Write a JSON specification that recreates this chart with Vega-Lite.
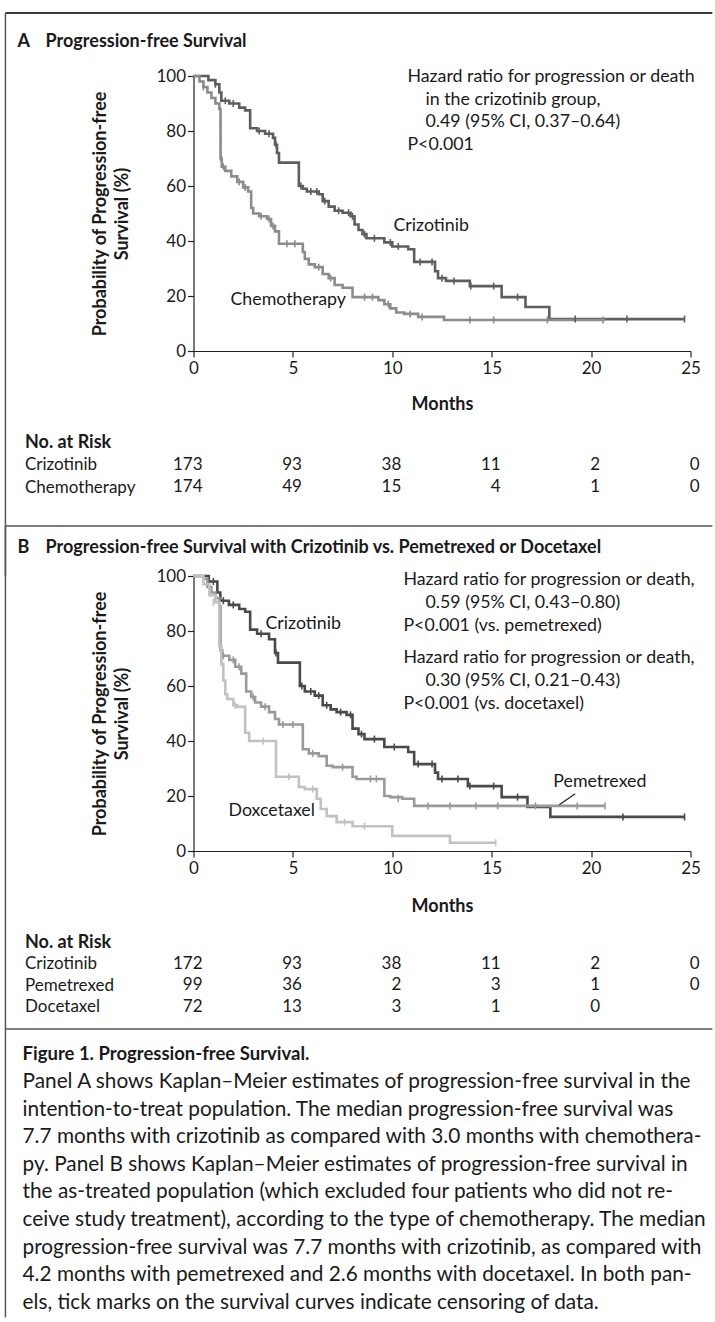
{
 "$schema": "https://vega.github.io/schema/vega-lite/v6.json",
 "padding": {"left": 3.5, "top": 12, "right": 0, "bottom": 0},
 "background": "white",
 "bounds": "flush",
 "spacing": 0,
 "resolve": {"scale": {"color": "independent"}},
 "config": {
  "font": "Lato",
  "view": {"stroke": null},
  "axis": {"labelFont": "Lato", "labelFontSize": 17, "labelColor": "#1a1a1a", "titleFont": "Lato", "titleFontSize": 18, "titleFontWeight": "bold", "titleColor": "#1a1a1a", "domainColor": "#222222", "tickColor": "#222222", "grid": false, "tickSize": 6, "domainWidth": 1.2, "tickWidth": 1.2},
  "text": {"font": "Lato", "fontSize": 17.8, "color": "#1a1a1a"}
 },
 "datasets": {
  "curves": [
   {"panel":"A","group":"Crizotinib","month":0,"pct":100},{"panel":"A","group":"Crizotinib","month":0.75,"pct":98.5},{"panel":"A","group":"Crizotinib","month":1.1,"pct":97},{"panel":"A","group":"Crizotinib","month":1.3,"pct":94},{"panel":"A","group":"Crizotinib","month":1.4,"pct":91},{"panel":"A","group":"Crizotinib","month":1.8,"pct":90},{"panel":"A","group":"Crizotinib","month":2.3,"pct":88.5},{"panel":"A","group":"Crizotinib","month":2.6,"pct":87.5},{"panel":"A","group":"Crizotinib","month":2.85,"pct":81},{"panel":"A","group":"Crizotinib","month":3.2,"pct":80},{"panel":"A","group":"Crizotinib","month":3.6,"pct":79},{"panel":"A","group":"Crizotinib","month":4.0,"pct":77.5},{"panel":"A","group":"Crizotinib","month":4.1,"pct":75},{"panel":"A","group":"Crizotinib","month":4.2,"pct":72},{"panel":"A","group":"Crizotinib","month":4.3,"pct":68.5},{"panel":"A","group":"Crizotinib","month":5.3,"pct":60},{"panel":"A","group":"Crizotinib","month":5.5,"pct":59},{"panel":"A","group":"Crizotinib","month":5.7,"pct":58},{"panel":"A","group":"Crizotinib","month":6.3,"pct":57},{"panel":"A","group":"Crizotinib","month":6.5,"pct":54.5},{"panel":"A","group":"Crizotinib","month":6.8,"pct":52.5},{"panel":"A","group":"Crizotinib","month":7.1,"pct":51},{"panel":"A","group":"Crizotinib","month":7.5,"pct":50.3},{"panel":"A","group":"Crizotinib","month":7.9,"pct":49},{"panel":"A","group":"Crizotinib","month":8.1,"pct":46},{"panel":"A","group":"Crizotinib","month":8.3,"pct":44},{"panel":"A","group":"Crizotinib","month":8.5,"pct":42.5},{"panel":"A","group":"Crizotinib","month":8.7,"pct":41},{"panel":"A","group":"Crizotinib","month":9.6,"pct":39.5},{"panel":"A","group":"Crizotinib","month":10.0,"pct":38},{"panel":"A","group":"Crizotinib","month":10.8,"pct":37},{"panel":"A","group":"Crizotinib","month":11.1,"pct":32.4},{"panel":"A","group":"Crizotinib","month":12.15,"pct":29},{"panel":"A","group":"Crizotinib","month":12.3,"pct":26.5},{"panel":"A","group":"Crizotinib","month":12.7,"pct":25.5},{"panel":"A","group":"Crizotinib","month":13.9,"pct":23.6},{"panel":"A","group":"Crizotinib","month":15.5,"pct":19.6},{"panel":"A","group":"Crizotinib","month":16.7,"pct":16},{"panel":"A","group":"Crizotinib","month":17.9,"pct":11.6},{"panel":"A","group":"Crizotinib","month":24.7,"pct":11.6},
   {"panel":"A","group":"Chemotherapy","month":0,"pct":100},{"panel":"A","group":"Chemotherapy","month":0.3,"pct":98},{"panel":"A","group":"Chemotherapy","month":0.5,"pct":96},{"panel":"A","group":"Chemotherapy","month":0.7,"pct":94},{"panel":"A","group":"Chemotherapy","month":0.9,"pct":92},{"panel":"A","group":"Chemotherapy","month":1.1,"pct":90},{"panel":"A","group":"Chemotherapy","month":1.3,"pct":88},{"panel":"A","group":"Chemotherapy","month":1.36,"pct":70},{"panel":"A","group":"Chemotherapy","month":1.42,"pct":67},{"panel":"A","group":"Chemotherapy","month":1.6,"pct":65.5},{"panel":"A","group":"Chemotherapy","month":1.9,"pct":63.5},{"panel":"A","group":"Chemotherapy","month":2.2,"pct":61.5},{"panel":"A","group":"Chemotherapy","month":2.5,"pct":59.5},{"panel":"A","group":"Chemotherapy","month":2.75,"pct":58},{"panel":"A","group":"Chemotherapy","month":2.9,"pct":52},{"panel":"A","group":"Chemotherapy","month":3.0,"pct":50},{"panel":"A","group":"Chemotherapy","month":3.3,"pct":49},{"panel":"A","group":"Chemotherapy","month":3.7,"pct":48},{"panel":"A","group":"Chemotherapy","month":3.9,"pct":45.5},{"panel":"A","group":"Chemotherapy","month":4.1,"pct":43.5},{"panel":"A","group":"Chemotherapy","month":4.3,"pct":39},{"panel":"A","group":"Chemotherapy","month":5.5,"pct":36},{"panel":"A","group":"Chemotherapy","month":5.6,"pct":33.5},{"panel":"A","group":"Chemotherapy","month":5.8,"pct":31.5},{"panel":"A","group":"Chemotherapy","month":6.1,"pct":30.5},{"panel":"A","group":"Chemotherapy","month":6.5,"pct":28},{"panel":"A","group":"Chemotherapy","month":6.8,"pct":26.5},{"panel":"A","group":"Chemotherapy","month":7.1,"pct":24},{"panel":"A","group":"Chemotherapy","month":7.5,"pct":23},{"panel":"A","group":"Chemotherapy","month":8.0,"pct":19.6},{"panel":"A","group":"Chemotherapy","month":9.3,"pct":18.5},{"panel":"A","group":"Chemotherapy","month":9.6,"pct":17},{"panel":"A","group":"Chemotherapy","month":9.9,"pct":15.5},{"panel":"A","group":"Chemotherapy","month":10.2,"pct":14},{"panel":"A","group":"Chemotherapy","month":10.6,"pct":13.5},{"panel":"A","group":"Chemotherapy","month":11.3,"pct":12.4},{"panel":"A","group":"Chemotherapy","month":12.6,"pct":11.3},{"panel":"A","group":"Chemotherapy","month":20.7,"pct":11.3},
   {"panel":"B","group":"Crizotinib","month":0,"pct":100},{"panel":"B","group":"Crizotinib","month":0.77,"pct":98},{"panel":"B","group":"Crizotinib","month":1.2,"pct":94},{"panel":"B","group":"Crizotinib","month":1.35,"pct":91},{"panel":"B","group":"Crizotinib","month":1.78,"pct":89.5},{"panel":"B","group":"Crizotinib","month":2.3,"pct":88},{"panel":"B","group":"Crizotinib","month":2.6,"pct":87},{"panel":"B","group":"Crizotinib","month":2.85,"pct":80.5},{"panel":"B","group":"Crizotinib","month":3.2,"pct":79},{"panel":"B","group":"Crizotinib","month":3.8,"pct":77},{"panel":"B","group":"Crizotinib","month":4.1,"pct":72},{"panel":"B","group":"Crizotinib","month":4.25,"pct":68.5},{"panel":"B","group":"Crizotinib","month":5.35,"pct":60},{"panel":"B","group":"Crizotinib","month":5.6,"pct":58},{"panel":"B","group":"Crizotinib","month":6.1,"pct":56.5},{"panel":"B","group":"Crizotinib","month":6.5,"pct":53},{"panel":"B","group":"Crizotinib","month":6.9,"pct":51.5},{"panel":"B","group":"Crizotinib","month":7.2,"pct":50.5},{"panel":"B","group":"Crizotinib","month":7.7,"pct":49.5},{"panel":"B","group":"Crizotinib","month":8.0,"pct":44.5},{"panel":"B","group":"Crizotinib","month":8.3,"pct":42.5},{"panel":"B","group":"Crizotinib","month":8.6,"pct":40.7},{"panel":"B","group":"Crizotinib","month":9.6,"pct":37.8},{"panel":"B","group":"Crizotinib","month":10.8,"pct":36},{"panel":"B","group":"Crizotinib","month":11.1,"pct":31.6},{"panel":"B","group":"Crizotinib","month":12.15,"pct":28.5},{"panel":"B","group":"Crizotinib","month":12.3,"pct":26.2},{"panel":"B","group":"Crizotinib","month":13.8,"pct":23.6},{"panel":"B","group":"Crizotinib","month":15.5,"pct":19.6},{"panel":"B","group":"Crizotinib","month":16.8,"pct":16},{"panel":"B","group":"Crizotinib","month":17.95,"pct":12.4},{"panel":"B","group":"Crizotinib","month":24.7,"pct":12.4},
   {"panel":"B","group":"Pemetrexed","month":0,"pct":100},{"panel":"B","group":"Pemetrexed","month":0.5,"pct":99},{"panel":"B","group":"Pemetrexed","month":0.7,"pct":96},{"panel":"B","group":"Pemetrexed","month":0.9,"pct":94},{"panel":"B","group":"Pemetrexed","month":1.1,"pct":92},{"panel":"B","group":"Pemetrexed","month":1.3,"pct":89},{"panel":"B","group":"Pemetrexed","month":1.36,"pct":73},{"panel":"B","group":"Pemetrexed","month":1.45,"pct":71},{"panel":"B","group":"Pemetrexed","month":1.8,"pct":69.5},{"panel":"B","group":"Pemetrexed","month":2.1,"pct":67},{"panel":"B","group":"Pemetrexed","month":2.4,"pct":64.5},{"panel":"B","group":"Pemetrexed","month":2.65,"pct":58},{"panel":"B","group":"Pemetrexed","month":2.9,"pct":56},{"panel":"B","group":"Pemetrexed","month":3.1,"pct":54},{"panel":"B","group":"Pemetrexed","month":3.4,"pct":52.5},{"panel":"B","group":"Pemetrexed","month":3.8,"pct":50.5},{"panel":"B","group":"Pemetrexed","month":4.1,"pct":48},{"panel":"B","group":"Pemetrexed","month":4.3,"pct":46},{"panel":"B","group":"Pemetrexed","month":5.5,"pct":37},{"panel":"B","group":"Pemetrexed","month":5.8,"pct":35.5},{"panel":"B","group":"Pemetrexed","month":6.3,"pct":34.5},{"panel":"B","group":"Pemetrexed","month":6.7,"pct":31},{"panel":"B","group":"Pemetrexed","month":7.0,"pct":30.5},{"panel":"B","group":"Pemetrexed","month":8.0,"pct":27},{"panel":"B","group":"Pemetrexed","month":8.2,"pct":26.2},{"panel":"B","group":"Pemetrexed","month":9.6,"pct":20},{"panel":"B","group":"Pemetrexed","month":9.9,"pct":19.6},{"panel":"B","group":"Pemetrexed","month":10.5,"pct":19},{"panel":"B","group":"Pemetrexed","month":11.1,"pct":16.4},{"panel":"B","group":"Pemetrexed","month":20.7,"pct":16.4},
   {"panel":"B","group":"Docetaxel","month":0,"pct":100},{"panel":"B","group":"Docetaxel","month":0.5,"pct":97},{"panel":"B","group":"Docetaxel","month":0.8,"pct":93},{"panel":"B","group":"Docetaxel","month":1.1,"pct":90.5},{"panel":"B","group":"Docetaxel","month":1.3,"pct":74.5},{"panel":"B","group":"Docetaxel","month":1.4,"pct":68},{"panel":"B","group":"Docetaxel","month":1.5,"pct":62},{"panel":"B","group":"Docetaxel","month":1.6,"pct":57},{"panel":"B","group":"Docetaxel","month":1.7,"pct":55.3},{"panel":"B","group":"Docetaxel","month":2.0,"pct":53},{"panel":"B","group":"Docetaxel","month":2.2,"pct":52.4},{"panel":"B","group":"Docetaxel","month":2.6,"pct":43},{"panel":"B","group":"Docetaxel","month":2.8,"pct":40},{"panel":"B","group":"Docetaxel","month":4.15,"pct":27},{"panel":"B","group":"Docetaxel","month":5.3,"pct":23.3},{"panel":"B","group":"Docetaxel","month":5.6,"pct":22.5},{"panel":"B","group":"Docetaxel","month":6.2,"pct":19},{"panel":"B","group":"Docetaxel","month":6.4,"pct":15.3},{"panel":"B","group":"Docetaxel","month":6.7,"pct":12.7},{"panel":"B","group":"Docetaxel","month":7.2,"pct":10.5},{"panel":"B","group":"Docetaxel","month":8.0,"pct":9},{"panel":"B","group":"Docetaxel","month":10.0,"pct":5.5},{"panel":"B","group":"Docetaxel","month":12.9,"pct":3},{"panel":"B","group":"Docetaxel","month":15.2,"pct":3}
  ],
  "censors": [
   {"panel":"A","group":"Crizotinib","month":1.1,"pct":97},{"panel":"A","group":"Crizotinib","month":1.6,"pct":91},{"panel":"A","group":"Crizotinib","month":2.0,"pct":90},{"panel":"A","group":"Crizotinib","month":3.3,"pct":80},{"panel":"A","group":"Crizotinib","month":3.8,"pct":79},{"panel":"A","group":"Crizotinib","month":4.15,"pct":75},{"panel":"A","group":"Crizotinib","month":5.4,"pct":60},{"panel":"A","group":"Crizotinib","month":5.9,"pct":58},{"panel":"A","group":"Crizotinib","month":6.2,"pct":58},{"panel":"A","group":"Crizotinib","month":6.6,"pct":54.5},{"panel":"A","group":"Crizotinib","month":7.3,"pct":51},{"panel":"A","group":"Crizotinib","month":7.8,"pct":50.3},{"panel":"A","group":"Crizotinib","month":8.0,"pct":49},{"panel":"A","group":"Crizotinib","month":8.6,"pct":42.5},{"panel":"A","group":"Crizotinib","month":9.1,"pct":41},{"panel":"A","group":"Crizotinib","month":9.9,"pct":39.5},{"panel":"A","group":"Crizotinib","month":10.3,"pct":38},{"panel":"A","group":"Crizotinib","month":11.4,"pct":32.4},{"panel":"A","group":"Crizotinib","month":12.0,"pct":32.4},{"panel":"A","group":"Crizotinib","month":12.5,"pct":26.5},{"panel":"A","group":"Crizotinib","month":13.1,"pct":25.5},{"panel":"A","group":"Crizotinib","month":13.95,"pct":23.6},{"panel":"A","group":"Crizotinib","month":15.1,"pct":23.6},{"panel":"A","group":"Crizotinib","month":16.3,"pct":19.6},{"panel":"A","group":"Crizotinib","month":19.2,"pct":11.6},{"panel":"A","group":"Crizotinib","month":21.8,"pct":11.6},{"panel":"A","group":"Crizotinib","month":24.7,"pct":11.6},
   {"panel":"A","group":"Chemotherapy","month":0.5,"pct":96},{"panel":"A","group":"Chemotherapy","month":1.36,"pct":82},{"panel":"A","group":"Chemotherapy","month":1.37,"pct":76},{"panel":"A","group":"Chemotherapy","month":1.4,"pct":70},{"panel":"A","group":"Chemotherapy","month":1.5,"pct":67},{"panel":"A","group":"Chemotherapy","month":2.3,"pct":61.5},{"panel":"A","group":"Chemotherapy","month":2.6,"pct":59.5},{"panel":"A","group":"Chemotherapy","month":3.4,"pct":49},{"panel":"A","group":"Chemotherapy","month":3.8,"pct":48},{"panel":"A","group":"Chemotherapy","month":4.0,"pct":45.5},{"panel":"A","group":"Chemotherapy","month":4.7,"pct":39},{"panel":"A","group":"Chemotherapy","month":5.1,"pct":39},{"panel":"A","group":"Chemotherapy","month":6.3,"pct":30.5},{"panel":"A","group":"Chemotherapy","month":6.9,"pct":26.5},{"panel":"A","group":"Chemotherapy","month":8.6,"pct":19.6},{"panel":"A","group":"Chemotherapy","month":9.0,"pct":19.6},{"panel":"A","group":"Chemotherapy","month":9.8,"pct":17},{"panel":"A","group":"Chemotherapy","month":10.9,"pct":13.5},{"panel":"A","group":"Chemotherapy","month":11.5,"pct":12.4},{"panel":"A","group":"Chemotherapy","month":13.9,"pct":11.3},{"panel":"A","group":"Chemotherapy","month":15.1,"pct":11.3},{"panel":"A","group":"Chemotherapy","month":17.8,"pct":11.3},{"panel":"A","group":"Chemotherapy","month":20.6,"pct":11.3},
   {"panel":"B","group":"Crizotinib","month":1.0,"pct":98},{"panel":"B","group":"Crizotinib","month":1.5,"pct":91},{"panel":"B","group":"Crizotinib","month":2.0,"pct":89.5},{"panel":"B","group":"Crizotinib","month":3.4,"pct":79},{"panel":"B","group":"Crizotinib","month":4.15,"pct":72},{"panel":"B","group":"Crizotinib","month":5.45,"pct":60},{"panel":"B","group":"Crizotinib","month":5.9,"pct":58},{"panel":"B","group":"Crizotinib","month":6.3,"pct":56.5},{"panel":"B","group":"Crizotinib","month":6.7,"pct":53},{"panel":"B","group":"Crizotinib","month":7.4,"pct":50.5},{"panel":"B","group":"Crizotinib","month":7.9,"pct":49.5},{"panel":"B","group":"Crizotinib","month":8.45,"pct":42.5},{"panel":"B","group":"Crizotinib","month":9.1,"pct":40.7},{"panel":"B","group":"Crizotinib","month":10.1,"pct":37.8},{"panel":"B","group":"Crizotinib","month":11.3,"pct":31.6},{"panel":"B","group":"Crizotinib","month":12.0,"pct":31.6},{"panel":"B","group":"Crizotinib","month":12.5,"pct":26.2},{"panel":"B","group":"Crizotinib","month":13.3,"pct":26.2},{"panel":"B","group":"Crizotinib","month":13.9,"pct":23.6},{"panel":"B","group":"Crizotinib","month":15.1,"pct":23.6},{"panel":"B","group":"Crizotinib","month":16.3,"pct":19.6},{"panel":"B","group":"Crizotinib","month":21.6,"pct":12.4},{"panel":"B","group":"Crizotinib","month":24.7,"pct":12.4},
   {"panel":"B","group":"Pemetrexed","month":1.5,"pct":71},{"panel":"B","group":"Pemetrexed","month":2.0,"pct":69.5},{"panel":"B","group":"Pemetrexed","month":2.3,"pct":67},{"panel":"B","group":"Pemetrexed","month":3.0,"pct":56},{"panel":"B","group":"Pemetrexed","month":3.6,"pct":52.5},{"panel":"B","group":"Pemetrexed","month":4.5,"pct":46},{"panel":"B","group":"Pemetrexed","month":5.0,"pct":46},{"panel":"B","group":"Pemetrexed","month":6.0,"pct":35.5},{"panel":"B","group":"Pemetrexed","month":7.5,"pct":30.5},{"panel":"B","group":"Pemetrexed","month":8.9,"pct":26.2},{"panel":"B","group":"Pemetrexed","month":9.2,"pct":26.2},{"panel":"B","group":"Pemetrexed","month":10.3,"pct":19},{"panel":"B","group":"Pemetrexed","month":11.8,"pct":16.4},{"panel":"B","group":"Pemetrexed","month":12.9,"pct":16.4},{"panel":"B","group":"Pemetrexed","month":14.2,"pct":16.4},{"panel":"B","group":"Pemetrexed","month":15.3,"pct":16.4},{"panel":"B","group":"Pemetrexed","month":17.2,"pct":16.4},{"panel":"B","group":"Pemetrexed","month":19.3,"pct":16.4},{"panel":"B","group":"Pemetrexed","month":20.7,"pct":16.4},
   {"panel":"B","group":"Docetaxel","month":1.0,"pct":90.5},{"panel":"B","group":"Docetaxel","month":1.45,"pct":68},{"panel":"B","group":"Docetaxel","month":2.1,"pct":53},{"panel":"B","group":"Docetaxel","month":3.5,"pct":40},{"panel":"B","group":"Docetaxel","month":4.8,"pct":27},{"panel":"B","group":"Docetaxel","month":6.0,"pct":22.5},{"panel":"B","group":"Docetaxel","month":7.6,"pct":10.5},{"panel":"B","group":"Docetaxel","month":8.6,"pct":9},{"panel":"B","group":"Docetaxel","month":15.2,"pct":3}
  ],
  "risk": [
   {"panel":"A","group":"Crizotinib","month":0,"n":173},{"panel":"A","group":"Crizotinib","month":5,"n":93},{"panel":"A","group":"Crizotinib","month":10,"n":38},{"panel":"A","group":"Crizotinib","month":15,"n":11},{"panel":"A","group":"Crizotinib","month":20,"n":2},{"panel":"A","group":"Crizotinib","month":25,"n":0},
   {"panel":"A","group":"Chemotherapy","month":0,"n":174},{"panel":"A","group":"Chemotherapy","month":5,"n":49},{"panel":"A","group":"Chemotherapy","month":10,"n":15},{"panel":"A","group":"Chemotherapy","month":15,"n":4},{"panel":"A","group":"Chemotherapy","month":20,"n":1},{"panel":"A","group":"Chemotherapy","month":25,"n":0},
   {"panel":"B","group":"Crizotinib","month":0,"n":172},{"panel":"B","group":"Crizotinib","month":5,"n":93},{"panel":"B","group":"Crizotinib","month":10,"n":38},{"panel":"B","group":"Crizotinib","month":15,"n":11},{"panel":"B","group":"Crizotinib","month":20,"n":2},{"panel":"B","group":"Crizotinib","month":25,"n":0},
   {"panel":"B","group":"Pemetrexed","month":0,"n":99},{"panel":"B","group":"Pemetrexed","month":5,"n":36},{"panel":"B","group":"Pemetrexed","month":10,"n":2},{"panel":"B","group":"Pemetrexed","month":15,"n":3},{"panel":"B","group":"Pemetrexed","month":20,"n":1},{"panel":"B","group":"Pemetrexed","month":25,"n":0},
   {"panel":"B","group":"Docetaxel","month":0,"n":72},{"panel":"B","group":"Docetaxel","month":5,"n":13},{"panel":"B","group":"Docetaxel","month":10,"n":3},{"panel":"B","group":"Docetaxel","month":15,"n":1},{"panel":"B","group":"Docetaxel","month":20,"n":0}
  ],
  "caption": [
   {"line":0,"text":"Figure 1. Progression-free Survival."},
   {"line":1,"text":"Panel A shows Kaplan–Meier estimates of progression-free survival in the"},
   {"line":2,"text":"intention-to-treat population. The median progression-free survival was"},
   {"line":3,"text":"7.7 months with crizotinib as compared with 3.0 months with chemothera-"},
   {"line":4,"text":"py. Panel B shows Kaplan–Meier estimates of progression-free survival in"},
   {"line":5,"text":"the as-treated population (which excluded four patients who did not re-"},
   {"line":6,"text":"ceive study treatment), according to the type of chemotherapy. The median"},
   {"line":7,"text":"progression-free survival was 7.7 months with crizotinib, as compared with"},
   {"line":8,"text":"4.2 months with pemetrexed and 2.6 months with docetaxel. In both pan-"},
   {"line":9,"text":"els, tick marks on the survival curves indicate censoring of data."}
  ]
 },
 "vconcat": [
  {
   "width": 497, "height": 275,
   "layer": [
    {
     "data": {"name": "curves"},
     "transform": [{"filter": "datum.panel === 'A'"}],
     "mark": {"type": "line", "interpolate": "step-after", "strokeWidth": 2.6},
     "encoding": {
      "x": {"field": "month", "type": "quantitative", "scale": {"domain": [0, 25], "nice": false, "zero": false},
            "axis": {"values": [0, 5, 10, 15, 20, 25], "title": "Months", "titlePadding": 19, "labelFlush": false, "labelPadding": 3}},
      "y": {"field": "pct", "type": "quantitative", "scale": {"domain": [0, 100], "nice": false},
            "axis": {"values": [0, 20, 40, 60, 80, 100], "title": ["Probability of Progression-free", "Survival (%)"], "titleLineHeight": 22, "titlePadding": 24, "labelPadding": 2}},
      "color": {"field": "group", "type": "nominal", "scale": {"domain": ["Crizotinib", "Chemotherapy"], "range": ["#5e5e5e", "#8c8c8c"]}, "legend": null}
     }
    },
    {
     "data": {"name": "censors"},
     "transform": [{"filter": "datum.panel === 'A'"}],
     "mark": {"type": "point", "shape": "M0,-1L0,1", "size": 49, "filled": false, "strokeWidth": 1.6, "opacity": 1},
     "encoding": {
      "x": {"field": "month", "type": "quantitative"},
      "y": {"field": "pct", "type": "quantitative"},
      "color": {"field": "group", "type": "nominal", "legend": null}
     }
    },
    {"data": {"values": [{}]}, "mark": {"type": "text", "text": "Hazard ratio for progression or death", "align": "left", "baseline": "middle"}, "encoding": {"x": {"datum": 10.76}, "y": {"datum": 99.6}}},
    {"data": {"values": [{}]}, "mark": {"type": "text", "text": "in the crizotinib group,", "align": "left", "baseline": "middle"}, "encoding": {"x": {"datum": 11.67}, "y": {"datum": 91.3}}},
    {"data": {"values": [{}]}, "mark": {"type": "text", "text": "0.49 (95% CI, 0.37–0.64)", "align": "left", "baseline": "middle"}, "encoding": {"x": {"datum": 11.67}, "y": {"datum": 83.3}}},
    {"data": {"values": [{}]}, "mark": {"type": "text", "text": "P<0.001", "align": "left", "baseline": "middle"}, "encoding": {"x": {"datum": 10.76}, "y": {"datum": 74.9}}},
    {"data": {"values": [{}]}, "mark": {"type": "text", "text": "Crizotinib", "align": "left", "baseline": "middle"}, "encoding": {"x": {"datum": 10.06}, "y": {"datum": 45.5}}},
    {"data": {"values": [{}]}, "mark": {"type": "text", "text": "Chemotherapy", "align": "left", "baseline": "middle"}, "encoding": {"x": {"datum": 1.86}, "y": {"datum": 18.5}}},
    {"data": {"values": [{}]}, "mark": {"type": "text", "text": "A", "align": "left", "baseline": "middle", "fontWeight": "bold", "fontSize": 18}, "encoding": {"x": {"datum": -8.85}, "y": {"datum": 112.4}}},
    {"data": {"values": [{}]}, "mark": {"type": "text", "text": "Progression-free Survival", "align": "left", "baseline": "middle", "fontWeight": "bold", "fontSize": 18}, "encoding": {"x": {"datum": -7.44}, "y": {"datum": 112.4}}},
    {"data": {"values": [{}]}, "mark": {"type": "rule", "color": "#3a3a3a", "strokeWidth": 2}, "encoding": {"x": {"datum": -9.46}, "x2": {"datum": 26.1}, "y": {"datum": 122.9}}},
    {"data": {"values": [{}]}, "mark": {"type": "rule", "color": "#555555", "strokeWidth": 1.5}, "encoding": {"x": {"datum": -9.46}, "y": {"datum": 122.9}, "y2": {"datum": -81.8}}}
   ]
  },
  {
   "width": 497, "height": 225,
   "data": {"name": "risk"},
   "transform": [{"filter": "datum.panel === 'A'"}],
   "mark": {"type": "text", "align": "right", "dx": 9, "baseline": "middle", "fontSize": 17},
   "encoding": {
    "x": {"field": "month", "type": "quantitative", "scale": {"domain": [0, 25], "nice": false}, "axis": null},
    "y": {"field": "group", "type": "nominal", "scale": {"type": "point", "domain": ["No. at Risk", "Crizotinib", "Chemotherapy"], "range": [91, 136], "padding": 0},
          "axis": {"title": null, "domain": false, "ticks": false, "tickSize": 0, "labelPadding": 169, "labelAlign": "left", "labelBaseline": "middle", "labelLimit": 300,
                   "labelFontSize": {"condition": {"test": "datum.value === 'No. at Risk'", "value": 18}, "value": 17},
                   "labelFontWeight": {"condition": {"test": "datum.value === 'No. at Risk'", "value": "bold"}, "value": "normal"}}},
    "text": {"field": "n", "type": "quantitative"}
   }
  },
  {
   "width": 497, "height": 275,
   "layer": [
    {
     "data": {"name": "curves"},
     "transform": [{"filter": "datum.panel === 'B'"}],
     "mark": {"type": "line", "interpolate": "step-after", "strokeWidth": 2.6},
     "encoding": {
      "x": {"field": "month", "type": "quantitative", "scale": {"domain": [0, 25], "nice": false, "zero": false},
            "axis": {"values": [0, 5, 10, 15, 20, 25], "title": "Months", "titlePadding": 21, "labelFlush": false, "labelPadding": 3}},
      "y": {"field": "pct", "type": "quantitative", "scale": {"domain": [0, 100], "nice": false},
            "axis": {"values": [0, 20, 40, 60, 80, 100], "title": ["Probability of Progression-free", "Survival (%)"], "titleLineHeight": 22, "titlePadding": 24, "labelPadding": 2}},
      "color": {"field": "group", "type": "nominal", "scale": {"domain": ["Crizotinib", "Pemetrexed", "Docetaxel"], "range": ["#4a4a4a", "#9a9a9a", "#c2c2c2"]}, "legend": null}
     }
    },
    {
     "data": {"name": "censors"},
     "transform": [{"filter": "datum.panel === 'B'"}],
     "mark": {"type": "point", "shape": "M0,-1L0,1", "size": 49, "filled": false, "strokeWidth": 1.6, "opacity": 1},
     "encoding": {
      "x": {"field": "month", "type": "quantitative"},
      "y": {"field": "pct", "type": "quantitative"},
      "color": {"field": "group", "type": "nominal", "legend": null}
     }
    },
    {"data": {"values": [{}]}, "mark": {"type": "text", "text": "Hazard ratio for progression or death,", "align": "left", "baseline": "middle"}, "encoding": {"x": {"datum": 10.56}, "y": {"datum": 98.5}}},
    {"data": {"values": [{}]}, "mark": {"type": "text", "text": "0.59 (95% CI, 0.43–0.80)", "align": "left", "baseline": "middle"}, "encoding": {"x": {"datum": 11.67}, "y": {"datum": 90.2}}},
    {"data": {"values": [{}]}, "mark": {"type": "text", "text": "P<0.001 (vs. pemetrexed)", "align": "left", "baseline": "middle"}, "encoding": {"x": {"datum": 10.56}, "y": {"datum": 81.8}}},
    {"data": {"values": [{}]}, "mark": {"type": "text", "text": "Hazard ratio for progression or death,", "align": "left", "baseline": "middle"}, "encoding": {"x": {"datum": 10.56}, "y": {"datum": 70.2}}},
    {"data": {"values": [{}]}, "mark": {"type": "text", "text": "0.30 (95% CI, 0.21–0.43)", "align": "left", "baseline": "middle"}, "encoding": {"x": {"datum": 11.67}, "y": {"datum": 61.8}}},
    {"data": {"values": [{}]}, "mark": {"type": "text", "text": "P<0.001 (vs. docetaxel)", "align": "left", "baseline": "middle"}, "encoding": {"x": {"datum": 10.56}, "y": {"datum": 53.5}}},
    {"data": {"values": [{}]}, "mark": {"type": "text", "text": "Crizotinib", "align": "left", "baseline": "middle"}, "encoding": {"x": {"datum": 3.62}, "y": {"datum": 82.5}}},
    {"data": {"values": [{}]}, "mark": {"type": "text", "text": "Pemetrexed", "align": "left", "baseline": "middle"}, "encoding": {"x": {"datum": 18.1}, "y": {"datum": 25.1}}},
    {"data": {"values": [{}]}, "mark": {"type": "text", "text": "Doxcetaxel", "align": "left", "baseline": "middle"}, "encoding": {"x": {"datum": 1.76}, "y": {"datum": 14.5}}},
    {"data": {"values": [{}]}, "mark": {"type": "rule", "color": "#222222", "strokeWidth": 1.2}, "encoding": {"x": {"datum": 19.2}, "y": {"datum": 20.8}, "x2": {"datum": 18.4}, "y2": {"datum": 16.8}}},
    {"data": {"values": [{}]}, "mark": {"type": "text", "text": "B", "align": "left", "baseline": "middle", "fontWeight": "bold", "fontSize": 18}, "encoding": {"x": {"datum": -8.85}, "y": {"datum": 110.2}}},
    {"data": {"values": [{}]}, "mark": {"type": "text", "text": "Progression-free Survival with Crizotinib vs. Pemetrexed or Docetaxel", "align": "left", "baseline": "middle", "fontWeight": "bold", "fontSize": 18}, "encoding": {"x": {"datum": -7.44}, "y": {"datum": 110.2}}},
    {"data": {"values": [{}]}, "mark": {"type": "rule", "color": "#555555", "strokeWidth": 1.5}, "encoding": {"x": {"datum": -9.46}, "x2": {"datum": 26.1}, "y": {"datum": 118.2}}},
    {"data": {"values": [{}]}, "mark": {"type": "rule", "color": "#555555", "strokeWidth": 1.5}, "encoding": {"x": {"datum": -9.46}, "x2": {"datum": 26.1}, "y": {"datum": -64.7}}},
    {"data": {"values": [{}]}, "mark": {"type": "rule", "color": "#555555", "strokeWidth": 1.5}, "encoding": {"x": {"datum": -9.46}, "y": {"datum": 118.2}, "y2": {"datum": -169.5}}}
   ]
  },
  {
   "width": 497, "height": 179,
   "data": {"name": "risk"},
   "transform": [{"filter": "datum.panel === 'B'"}],
   "mark": {"type": "text", "align": "right", "dx": 9, "baseline": "middle", "fontSize": 17},
   "encoding": {
    "x": {"field": "month", "type": "quantitative", "scale": {"domain": [0, 25], "nice": false}, "axis": null},
    "y": {"field": "group", "type": "nominal", "scale": {"type": "point", "domain": ["No. at Risk", "Crizotinib", "Pemetrexed", "Docetaxel"], "range": [91, 155.5], "padding": 0},
          "axis": {"title": null, "domain": false, "ticks": false, "tickSize": 0, "labelPadding": 169, "labelAlign": "left", "labelBaseline": "middle", "labelLimit": 300,
                   "labelFontSize": {"condition": {"test": "datum.value === 'No. at Risk'", "value": 18}, "value": 17},
                   "labelFontWeight": {"condition": {"test": "datum.value === 'No. at Risk'", "value": "bold"}, "value": "normal"}}},
    "text": {"field": "n", "type": "quantitative"}
   }
  },
  {
   "width": 497, "height": 291,
   "data": {"name": "caption"},
   "encoding": {
    "x": {"datum": -8.6, "type": "quantitative", "scale": {"domain": [0, 25], "nice": false}, "axis": null},
    "y": {"field": "line", "type": "ordinal", "scale": {"type": "point", "domain": [0, 1, 2, 3, 4, 5, 6, 7, 8, 9], "padding": 0.77, "align": 0.574}, "axis": null},
    "text": {"field": "text", "type": "nominal"}
   },
   "layer": [
    {"transform": [{"filter": "datum.line === 0"}], "mark": {"type": "text", "align": "left", "baseline": "middle", "fontSize": 18.5, "fontWeight": "bold"}},
    {"transform": [{"filter": "datum.line > 0"}], "mark": {"type": "text", "align": "left", "baseline": "middle", "fontSize": 20.8}}
   ]
  }
 ]
}
